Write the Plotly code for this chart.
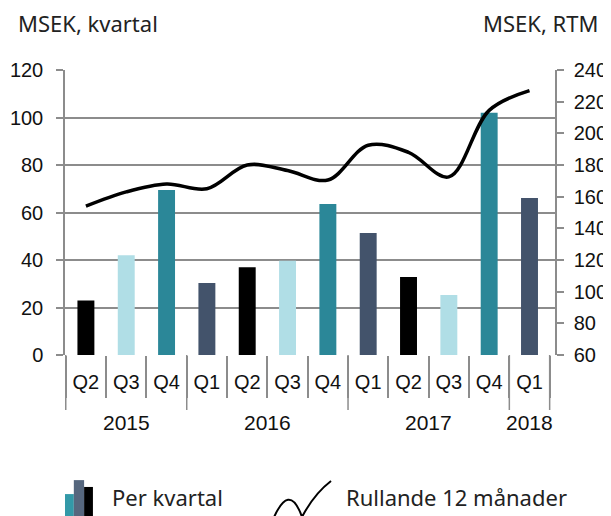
import plotly.graph_objects as go

years = ["2015", "2015", "2015", "2016", "2016", "2016", "2016",
         "2017", "2017", "2017", "2017", "2018"]
quarters = ["Q2", "Q3", "Q4", "Q1", "Q2", "Q3", "Q4", "Q1", "Q2", "Q3", "Q4", "Q1"]
per_kvartal = [23, 42, 69.5, 30.3, 37, 39.7, 63.6, 51.4, 32.8, 25.3, 102, 66.1]
rullande_12 = [154, 163, 168, 165, 180, 176.5, 170.5, 192.5, 188, 172.5, 214.5, 227]

quarter_colors = {"Q1": "#43536b", "Q2": "#000000", "Q3": "#b0dee6", "Q4": "#2b8798"}
bar_colors = [quarter_colors[q] for q in quarters]
ids = [f"{q} {y}" for q, y in zip(quarters, years)]

grid = "#8c8c8c"
tick_font = dict(family="Liberation Sans, Arial", size=20, color="#111111")
year_font = dict(family="Liberation Sans, Arial", size=21, color="#111111")
label_font = dict(family="Noto Sans, Lato", size=22, color="#222222")

fig = go.Figure()
fig.add_trace(go.Bar(
    x=ids, y=per_kvartal, marker=dict(color=bar_colors, line=dict(width=0)),
    name="Per kvartal", showlegend=False,
))
fig.add_trace(go.Scatter(
    x=ids, y=rullande_12, yaxis="y2", mode="lines",
    line=dict(color="#000000", width=3.5, shape="spline", smoothing=1),
    name="Rullande 12 månader", showlegend=False,
))

fig.update_layout(
    width=603, height=508,
    margin=dict(l=57, r=56, t=62, b=161, autoexpand=False),
    paper_bgcolor="white", plot_bgcolor="white",
    bargap=0.58,
    xaxis=dict(
        type="category", showgrid=False, showline=False, zeroline=False,
        tickmode="array", tickvals=ids, ticktext=quarters,
        tickson="boundaries", ticks="outside", ticklen=42, tickwidth=1.5, tickcolor=grid,
        ticklabelstandoff=13, tickfont=tick_font,
    ),
    yaxis=dict(
        range=[0, 120], dtick=20, showgrid=True, gridcolor=grid, gridwidth=1.5,
        showline=True, linecolor=grid, linewidth=1.5,
        ticks="outside", ticklen=7, tickcolor=grid, tickwidth=1.5,
        ticklabelstandoff=9, tickfont=tick_font, zeroline=False,
    ),
    yaxis2=dict(
        range=[60, 240], dtick=20, overlaying="y", side="right", showgrid=False,
        showline=True, linecolor=grid, linewidth=1.5,
        ticks="outside", ticklen=7, tickcolor=grid, tickwidth=1.5,
        ticklabelstandoff=6, tickfont=tick_font, zeroline=False,
    ),
)

# year labels and year dividers derived from the category structure
unique_years = list(dict.fromkeys(years))
for yr in unique_years:
    idx = [i for i, y in enumerate(years) if y == yr]
    fig.add_annotation(text=yr, xref="x", yref="paper", x=sum(idx) / len(idx), y=-0.238,
                       xanchor="center", yanchor="middle", showarrow=False, font=year_font)
bounds = [-0.5] + [i - 0.5 for i in range(1, len(years)) if years[i] != years[i - 1]] + [len(years) - 0.5]
for b in bounds:
    fig.add_shape(type="line", xref="x", yref="paper", x0=b, x1=b, y0=0, y1=-0.193,
                  line=dict(color=grid, width=1.5))

fig.add_annotation(text="MSEK, kvartal", xref="paper", yref="paper", x=-0.1, y=1.165,
                   xanchor="left", yanchor="middle", showarrow=False, font=label_font)
fig.add_annotation(text="MSEK, RTM", xref="paper", yref="paper", x=1.092, y=1.165,
                   xanchor="right", yanchor="middle", showarrow=False, font=label_font)

# custom legend
fig.add_shape(type="rect", xref="paper", yref="paper", x0=0.0, x1=0.018, y0=-0.6, y1=-0.488,
              fillcolor="#3399a8", line_width=0)
fig.add_shape(type="rect", xref="paper", yref="paper", x0=0.018, x1=0.039, y0=-0.6, y1=-0.439,
              fillcolor="#56677e", line_width=0)
fig.add_shape(type="rect", xref="paper", yref="paper", x0=0.039, x1=0.057, y0=-0.6, y1=-0.463,
              fillcolor="#000000", line_width=0)
fig.add_annotation(text="Per kvartal", xref="paper", yref="paper", x=0.092, y=-0.498,
                   xanchor="left", yanchor="middle", showarrow=False, font=label_font)
fig.add_shape(type="path", xref="paper", yref="paper",
              path="M 0.4224 -0.586 Q 0.4571 -0.4386 0.4837 -0.5684 Q 0.5082 -0.4877 0.5429 -0.4421",
              line=dict(color="#000000", width=2))
fig.add_annotation(text="Rullande 12 månader", xref="paper", yref="paper", x=0.57, y=-0.498,
                   xanchor="left", yanchor="middle", showarrow=False, font=label_font)

fig.write_html("out.html")
